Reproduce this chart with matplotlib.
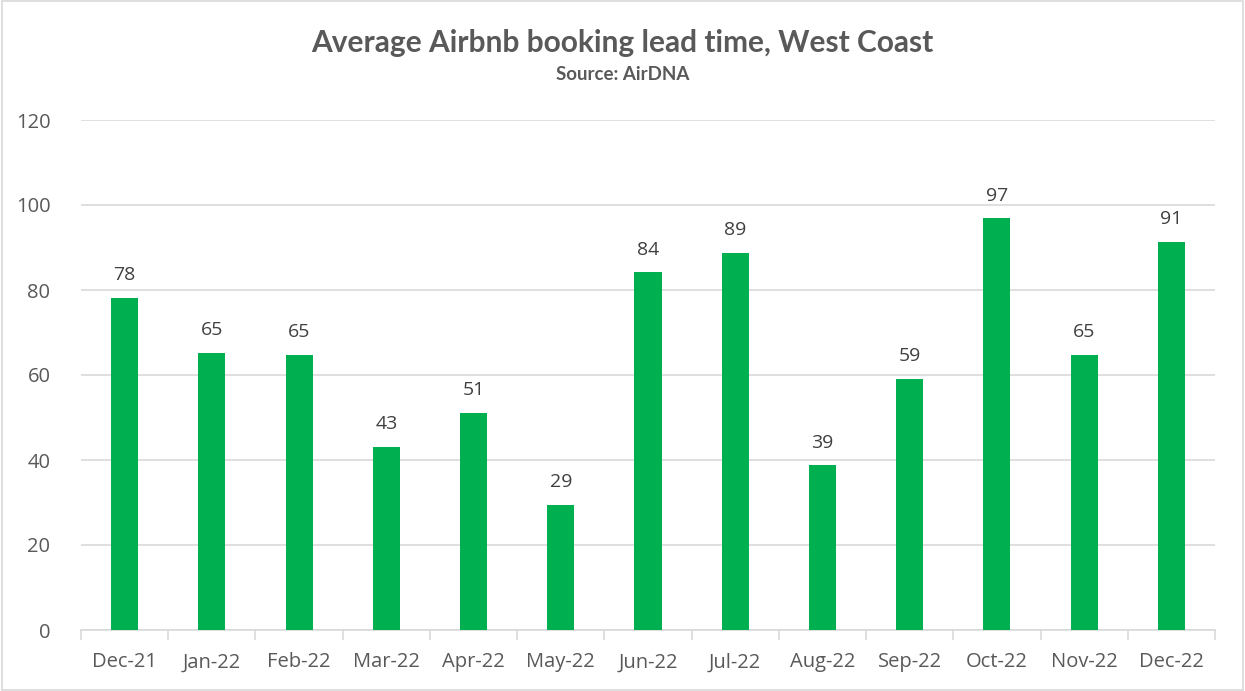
import matplotlib
matplotlib.use("Agg")
import matplotlib.pyplot as plt
from matplotlib.patches import Rectangle
from matplotlib.ticker import FixedLocator

months = ["Dec-21", "Jan-22", "Feb-22", "Mar-22", "Apr-22", "May-22", "Jun-22",
          "Jul-22", "Aug-22", "Sep-22", "Oct-22", "Nov-22", "Dec-22"]
lead_time = [78.1, 65.2, 64.7, 43.1, 51.1, 29.4, 84.2, 88.7, 38.8, 59.1, 96.9, 64.7, 91.4]
yticks = [0, 20, 40, 60, 80, 100, 120]

txt = "#595959"
fig = plt.figure(figsize=(12.45, 6.91), dpi=100)
fig.patches.append(Rectangle((0.002, 0.002), 0.996, 0.996, transform=fig.transFigure,
                             fill=False, edgecolor="#D9D9D9", linewidth=1.2))
ax = fig.add_axes([81/1245, 1-630/691, (1215-81)/1245, (630-120)/691])

x = list(range(len(months)))
ax.bar(x, lead_time, width=0.31, color="#00B050", zorder=3)
for xi, v in zip(x, lead_time):
    ax.text(xi, v + 3.2, f"{v:.0f}", ha="center", va="bottom", fontsize=14,
            color="#404040", family="Open Sans")

ax.set_xlim(-0.5, len(months) - 0.5)
ax.set_ylim(0, 120)
ax.set_yticks(yticks)
ax.set_yticklabels([str(t) for t in yticks], fontsize=14.5, color=txt, family="Open Sans")
ax.set_xticks(x)
ax.set_xticklabels(months, fontsize=14.5, color=txt, family="Open Sans")
ax.grid(axis="y", color="#D9D9D9", linewidth=1.2, zorder=0)
for s in ["top", "right", "left"]:
    ax.spines[s].set_visible(False)
ax.spines["bottom"].set_color("#D9D9D9")
ax.spines["bottom"].set_linewidth(1.2)
ax.tick_params(axis="y", length=0, pad=22)
ax.tick_params(axis="x", length=0, pad=16)
ax.xaxis.set_minor_locator(FixedLocator([i - 0.5 for i in range(len(months) + 1)]))
ax.tick_params(axis="x", which="minor", length=7, color="#D9D9D9", width=1.2)

fig.text(0.5, 1 - 43/691, "Average Airbnb booking lead time, West Coast", ha="center",
         va="center", fontsize=21.5, fontweight="bold", color=txt, family="Lato")
fig.text(0.5, 1 - 74/691, "Source: AirDNA", ha="center", va="center", fontsize=13.5,
         fontweight="bold", color=txt, family="Lato")

fig.savefig("out.png", dpi=100)
